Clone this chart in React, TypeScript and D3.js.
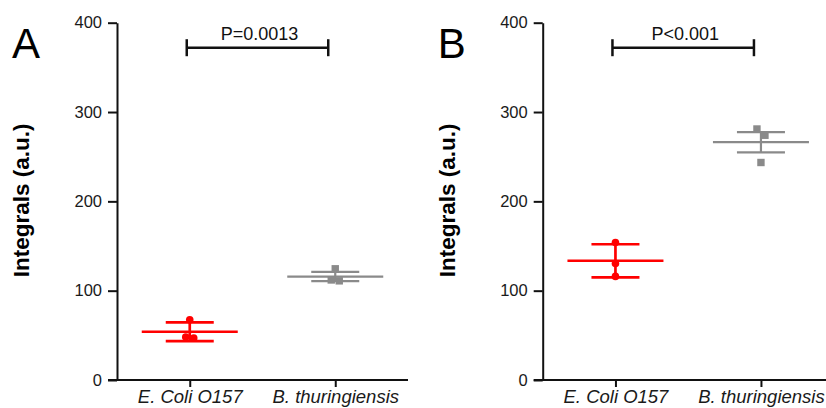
import React, { useEffect, useRef } from "react";
import * as d3 from "d3";

// chart values
const categories = ["E. Coli O157", "B. thuringiensis"];
const panelLetters = ["A", "B"];
const pLabels = ["P=0.0013", "P<0.001"];
const yTicks = [0, 100, 200, 300, 400];
const bracketLevel = 372;

// panel A
const ecoliA = [67.5, 48, 47];
const btA = [124.5, 112, 111];
const meanA = [54, 115.8];
const sdA = [10.4, 5.2];

// panel B
const ecoliB = [154, 130.5, 116];
const btB = [281, 274, 243.5];
const meanB = [133.5, 266.2];
const sdB = [18.5, 11.3];

const colors = ["#ff0000", "#8a8a8a"];
const FONT = "'Liberation Sans', Arial, Helvetica, sans-serif";

const W = 826;
const H = 408;

export default function App() {
  const svgRef = useRef<SVGSVGElement>(null);

  useEffect(() => {
    const svg = d3.select(svgRef.current);
    svg.selectAll("*").remove();

    const panels = [
      { letter: panelLetters[0], p: pLabels[0], points: [ecoliA, btA], mean: meanA, sd: sdA, x0: 117 },
      { letter: panelLetters[1], p: pLabels[1], points: [ecoliB, btB], mean: meanB, sd: sdB, x0: 542.7 },
    ];

    const yScale = d3.scaleLinear().domain([0, 400]).range([380, 22.7]);

    panels.forEach((pn) => {
      const g = svg.append("g");
      const xScale = d3
        .scalePoint<string>()
        .domain(categories)
        .range([pn.x0, pn.x0 + 291])
        .padding(0.5);

      // panel letter
      g.append("text")
        .attr("x", pn.x0 - 105)
        .attr("y", 58)
        .attr("font-family", FONT)
        .attr("font-size", 42)
        .attr("fill", "#000")
        .text(pn.letter);

      // y axis
      const yAxis = d3
        .axisLeft(yScale)
        .tickValues(yTicks)
        .tickSize(9)
        .tickSizeOuter(0)
        .tickPadding(6);
      const ya = g
        .append("g")
        .attr("transform", `translate(${pn.x0},0)`)
        .call(yAxis);
      ya.select(".domain").attr("stroke", "#111").attr("stroke-width", 2);
      ya.selectAll(".tick line").attr("stroke", "#111").attr("stroke-width", 2);
      ya.selectAll(".tick text")
        .attr("font-family", FONT)
        .attr("font-size", 16.5)
        .attr("fill", "#1a1a1a");

      // x axis
      const xAxis = d3.axisBottom(xScale).tickSize(7).tickSizeOuter(0).tickPadding(3);
      const xa = g
        .append("g")
        .attr("transform", `translate(0,${yScale(0)})`)
        .call(xAxis);
      xa.select(".domain").remove();
      xa.selectAll(".tick line").attr("stroke", "#111").attr("stroke-width", 2);
      xa.selectAll(".tick text")
        .attr("font-family", FONT)
        .attr("font-size", 18.5)
        .attr("font-style", "italic")
        .attr("fill", "#1a1a1a");
      g.append("line")
        .attr("x1", pn.x0 - 9)
        .attr("x2", pn.x0 + 291)
        .attr("y1", yScale(0))
        .attr("y2", yScale(0))
        .attr("stroke", "#111")
        .attr("stroke-width", 2);

      // y title
      g.append("text")
        .attr("transform", `translate(${pn.x0 - 88},${yScale(200) - 1}) rotate(-90)`)
        .attr("text-anchor", "middle")
        .attr("font-family", FONT)
        .attr("font-weight", "bold")
        .attr("font-size", 22.5)
        .attr("fill", "#000")
        .text("Integrals (a.u.)");

      // significance bracket
      const bx1 = xScale(categories[0])! - 3;
      const bx2 = xScale(categories[1])! - 7;
      const by = yScale(bracketLevel);
      const br = g.append("g").attr("stroke", "#111").attr("stroke-width", 2.5);
      br.append("line").attr("x1", bx1).attr("x2", bx2).attr("y1", by).attr("y2", by);
      [bx1, bx2].forEach((bx) =>
        br.append("line").attr("x1", bx).attr("x2", bx).attr("y1", by - 8.5).attr("y2", by + 8.5)
      );
      g.append("text")
        .attr("x", (bx1 + bx2) / 2 + 2)
        .attr("y", by - 7.5)
        .attr("text-anchor", "middle")
        .attr("font-family", FONT)
        .attr("font-size", 18)
        .attr("fill", "#111")
        .text(pn.p);

      // groups
      categories.forEach((cat, i) => {
        const cx = xScale(cat)!;
        const col = colors[i];
        const lw = i === 0 ? 2.7 : 2.2;
        const m = pn.mean[i];
        const s = pn.sd[i];
        const eg = g.append("g").attr("stroke", col).attr("stroke-width", lw);
        eg.append("line")
          .attr("x1", cx - 48).attr("x2", cx + 48)
          .attr("y1", yScale(m)).attr("y2", yScale(m));
        [m - s, m + s].forEach((v) =>
          eg.append("line")
            .attr("x1", cx - 24).attr("x2", cx + 24)
            .attr("y1", yScale(v)).attr("y2", yScale(v))
        );
        eg.append("line")
          .attr("x1", cx).attr("x2", cx)
          .attr("y1", yScale(m - s)).attr("y2", yScale(m + s));

        // spread overlapping points sideways
        const sorted = [...pn.points[i]].sort((a, b) => b - a);
        const clusters: number[][] = [];
        sorted.forEach((v) => {
          const last = clusters[clusters.length - 1];
          if (last && yScale(v) - yScale(last[last.length - 1]) < 7.5) last.push(v);
          else clusters.push([v]);
        });
        const pts: { x: number; v: number }[] = [];
        clusters.forEach((c) =>
          c.forEach((v, k) => pts.push({ x: cx + (k - (c.length - 1) / 2) * 8, v }))
        );

        if (i === 0) {
          g.selectAll(null)
            .data(pts)
            .enter()
            .append("circle")
            .attr("cx", (d) => d.x)
            .attr("cy", (d) => yScale(d.v))
            .attr("r", 3.8)
            .attr("fill", col);
        } else {
          g.selectAll(null)
            .data(pts)
            .enter()
            .append("rect")
            .attr("x", (d) => d.x - 3.7)
            .attr("y", (d) => yScale(d.v) - 3.7)
            .attr("width", 7.4)
            .attr("height", 7.4)
            .attr("fill", col);
        }
      });
    });
  }, []);

  return (
    <svg
      ref={svgRef}
      width={W}
      height={H}
      style={{ position: "absolute", left: 0, top: 0, background: "#fff" }}
    />
  );
}
